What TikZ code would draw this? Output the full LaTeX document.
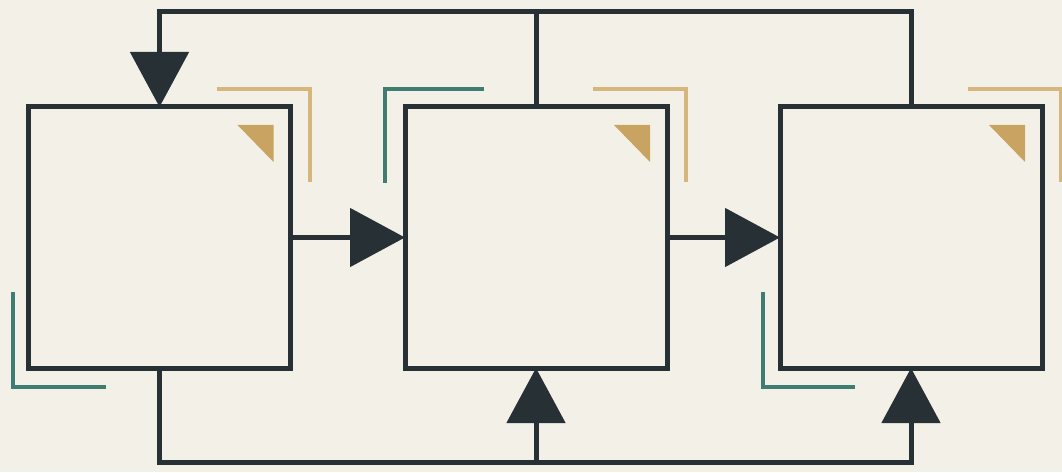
\documentclass[tikz,border=0pt]{standalone}
\usetikzlibrary{arrows.meta}
\definecolor{paper}{HTML}{F3F1E7}
\definecolor{ink}{HTML}{263035}
\definecolor{gold}{HTML}{C9A361}
\definecolor{goldlight}{HTML}{D6B67C}
\definecolor{teal}{HTML}{3F7D72}
\begin{document}
\begin{tikzpicture}[x=1pt, y=1pt,
	box/.style={draw=ink, line width=5pt, minimum width=262pt, minimum height=261pt, inner sep=0pt, outer sep=0pt},
	link/.style={draw=ink, line width=5pt, line join=miter},
	tip/.style={-{Triangle[length=55pt, width=58pt]}},
	goldmark/.style={draw=goldlight, line width=4pt},
	tealmark/.style={draw=teal, line width=4pt}]
	\fill[paper] (0,0) rectangle (1062,472);
	\useasboundingbox (0,0) rectangle (1062,472);

	\foreach \i/\x in {1/159.5, 2/536, 3/911}
	{
		\node[box] (b\i) at (\x, 234.5) {};
		\coordinate (t\i) at (\x, 460);
		\coordinate (d\i) at (\x, 10);
		% gold corner and triangle
		\draw[goldmark] ([shift={(-74,18)}]b\i.north east) -- ++(93,0) -- ++(0,-93);
		\fill[gold] ([shift={(-53,-18)}]b\i.north east) -- ++(36,0) -- ++(0,-37) -- cycle;
	}

	% teal corners
	\draw[tealmark] ([shift={(-16,76)}]b1.south west) -- ++(0,-95) -- ++(93,0);
	\draw[tealmark] ([shift={(-20,-76)}]b2.north west) -- ++(0,94) -- ++(99,0);
	\draw[tealmark] ([shift={(-17,76)}]b3.south west) -- ++(0,-95) -- ++(92,0);

	\foreach \i/\j in {1/2, 2/3}
	{
		\draw[link, tip] (b\i) -- (b\j);
	}

	% feedback on top
	\draw[link, tip] (b3.north) -- (t3) -- (t1) -- (b1.north);
	\draw[link] (b2.north) -- (t2);

	% feed along the bottom
	\draw[link, tip] (b1.south) -- (d1) -- (d3) -- (b3.south);
	\draw[link, tip] (d2) -- (b2.south);
\end{tikzpicture}
\end{document}
